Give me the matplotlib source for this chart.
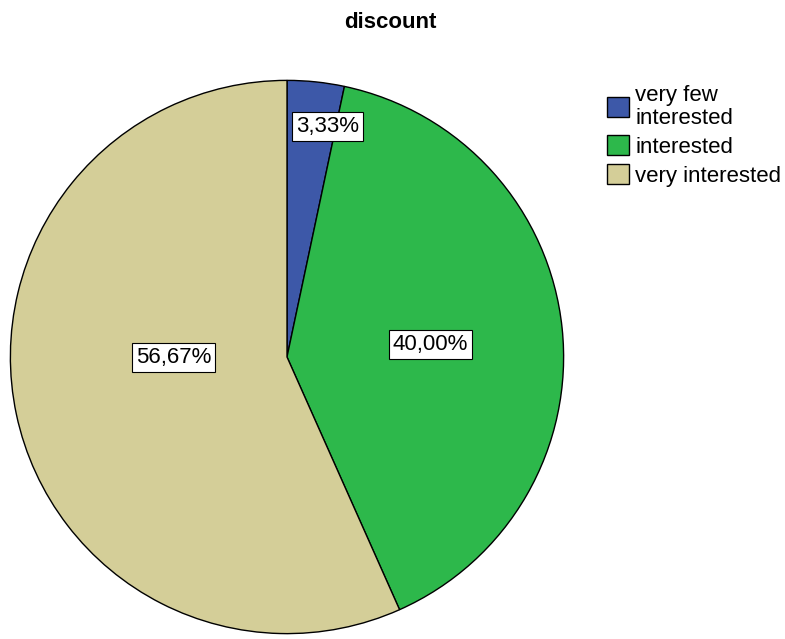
import numpy as np
import matplotlib
matplotlib.use("Agg")
import matplotlib.pyplot as plt
import matplotlib.patches as mpatches

plt.rcParams['font.family'] = ['Liberation Sans', 'DejaVu Sans']

# data
categories = ['very few\ninterested', 'interested', 'very interested']
shares = [3.33, 40.00, 56.67]
pct_labels = ['3,33%', '40,00%', '56,67%']
colors = ['#3d58a8', '#2db84b', '#d4ce98']

# label placement (radius fraction, angle in degrees) - SPSS style
label_pos = [(0.845, 80.0), (0.52, 4.8), (0.41, 180.5)]

fig = plt.figure(figsize=(7.85, 6.39), dpi=100)
ax = fig.add_axes([9 / 785, 4 / 639, 556 / 785, 556 / 639])

wedges, _ = ax.pie(shares, colors=colors, startangle=90, counterclock=False,
                   radius=1.0, wedgeprops=dict(edgecolor='black', linewidth=1.0))
ax.set_xlim(-1.005, 1.005)
ax.set_ylim(-1.005, 1.005)
ax.set_aspect('equal')
ax.axis('off')

for lab, (r, a) in zip(pct_labels, label_pos):
    t = np.deg2rad(a)
    ax.text(r * np.cos(t), r * np.sin(t), lab, ha='center', va='center', fontsize=16,
            bbox=dict(boxstyle='square,pad=0.18', facecolor='white', edgecolor='black', linewidth=0.8))

fig.text(390 / 785, 1 - 22 / 639, 'discount', ha='center', va='center',
         fontsize=16, fontweight='bold')

handles = []
for c, n in zip(colors, categories):
    handles.append(mpatches.Patch(facecolor=c, edgecolor='black', linewidth=1.0, label=n))
leg = fig.legend(handles=handles, loc='upper left', bbox_to_anchor=(607 / 785, 1 - 85 / 639),
                 frameon=False, fontsize=16, handlelength=0.98, handleheight=1.0,
                 handletextpad=0.3, labelspacing=0.3, borderaxespad=0, borderpad=0)
for t in leg.get_texts():
    t.set_linespacing(1.1)

fig.savefig('out.png', dpi=100)
